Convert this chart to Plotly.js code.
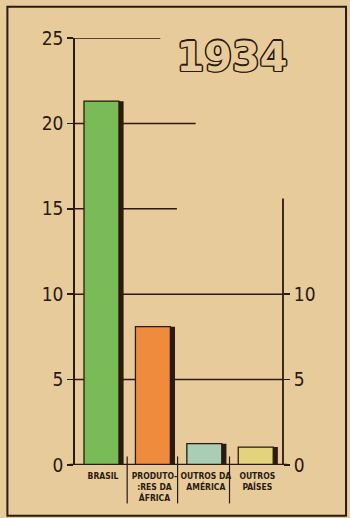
<!DOCTYPE html>
<html>
<head>
<meta charset="utf-8">
<script src="https://cdn.plot.ly/plotly-3.0.1.min.js"></script>
<style>html,body{margin:0;padding:0;background:#e7cb9b;}#chart{width:350px;height:518px;}</style>
</head>
<body>
<div id="chart"></div>
<script>
// Data
const categories = ["BRASIL", "PRODUTORES DA ÁFRICA", "OUTROS DA AMÉRICA", "OUTROS PAÍSES"];
const categoryLabels = ["BRASIL", "PRODUTO-<br>:RES DA<br>ÁFRICA", "OUTROS DA<br>AMÉRICA", "OUTROS<br>PAÍSES"];
const values = [21.3, 8.1, 1.25, 1.05];
const barColors = ["#79bb57", "#ee8b3d", "#a9cdb5", "#e3d37c"];
const leftTicks = [0, 5, 10, 15, 20, 25];
const rightTicks = [0, 5, 10];
const titleText = "1934";

const ink = "#2a1a10";
const bg = "#e7cb9b";
const xIdx = categories.map((c, i) => i);

const shadow = {
  type: "bar", x: xIdx, y: values, width: 0.70, offset: -0.30,
  marker: {color: ink, line: {width: 0}}, hoverinfo: "skip", showlegend: false
};
const bars = {
  type: "bar", x: xIdx, y: values, width: 0.68, offset: -0.37,
  marker: {color: barColors, line: {color: ink, width: 1.3}}, showlegend: false
};

const font = "'Liberation Sans Narrow', 'DejaVu Sans Condensed', sans-serif";
const lw = 1.5;

const shapes = [
  // outer frame
  {type: "rect", xref: "paper", yref: "paper", x0: -0.325, x1: 1.303, y0: -0.119, y1: 1.073,
   line: {color: ink, width: 2}, layer: "above"},
  // guide lines
  {type: "line", xref: "paper", yref: "y", x0: 0, x1: 0.41, y0: 25, y1: 25, line: {color: ink, width: lw}, layer: "below"},
  {type: "line", xref: "paper", yref: "y", x0: 0, x1: 0.58, y0: 20, y1: 20, line: {color: ink, width: lw}, layer: "below"},
  {type: "line", xref: "paper", yref: "y", x0: 0, x1: 0.49, y0: 15, y1: 15, line: {color: ink, width: lw}, layer: "below"},
  {type: "line", xref: "paper", yref: "y", x0: 0, x1: 1, y0: 10, y1: 10, line: {color: ink, width: lw}, layer: "below"},
  {type: "line", xref: "paper", yref: "y", x0: 0, x1: 1, y0: 5, y1: 5, line: {color: ink, width: lw}, layer: "below"},
  // right axis line
  {type: "line", xref: "paper", yref: "y", x0: 1, x1: 1, y0: 0, y1: 15.6, line: {color: ink, width: 1.8}, layer: "below"},
  // baseline
  {type: "line", xref: "paper", yref: "y", x0: -0.025, x1: 1.02, y0: 0, y1: 0, line: {color: ink, width: 2.5}},
  // label separators
  {type: "line", xref: "x", yref: "paper", x0: 0.47, x1: 0.47, y0: 0.02, y1: -0.09, line: {color: ink, width: 1.2}},
  {type: "line", xref: "x", yref: "paper", x0: 1.45, x1: 1.45, y0: 0.02, y1: -0.09, line: {color: ink, width: 1.2}},
  {type: "line", xref: "x", yref: "paper", x0: 2.46, x1: 2.46, y0: 0.02, y1: -0.09, line: {color: ink, width: 1.2}}
];

const layout = {
  width: 350, height: 518,
  margin: {l: 75, r: 67, t: 38, b: 53},
  paper_bgcolor: bg, plot_bgcolor: bg,
  barmode: "overlay",
  title: {
    text: titleText, x: 0.663, xanchor: "center", y: 0.89, yanchor: "middle",
    font: {family: "'DejaVu Sans', sans-serif", size: 40, weight: 700, color: bg,
      shadow: "1.5px 0 0 #2a1a10, -1.5px 0 0 #2a1a10, 0 1.5px 0 #2a1a10, 0 -1.5px 0 #2a1a10, 1px 1px 0 #2a1a10, -1px -1px 0 #2a1a10, 1px -1px 0 #2a1a10, -1px 1px 0 #2a1a10"}
  },
  xaxis: {
    range: [-0.545, 3.5], tickmode: "array", tickvals: xIdx, ticktext: categoryLabels,
    tickangle: 0, ticks: "", showline: false, showgrid: false, zeroline: false, fixedrange: true,
    tickfont: {family: "'DejaVu Sans Condensed', sans-serif", size: 8.5, weight: 700, color: ink},
    ticklabelstandoff: 4
  },
  yaxis: {
    range: [0, 25], tickmode: "array", tickvals: leftTicks,
    ticks: "outside", ticklen: 6, tickwidth: 1.5, tickcolor: ink,
    showline: true, linecolor: ink, linewidth: 1.8, showgrid: false, zeroline: false,
    tickfont: {family: font, size: 19, color: ink}, fixedrange: true
  },
  yaxis2: {
    overlaying: "y", side: "right", range: [0, 25], tickmode: "array", tickvals: rightTicks,
    ticks: "outside", ticklen: 6, tickwidth: 1.5, tickcolor: ink,
    showline: false, showgrid: false, zeroline: false,
    tickfont: {family: font, size: 19, color: ink}, fixedrange: true
  },
  shapes: shapes,
  showlegend: false
};

const dummyRight = {type: "scatter", x: [0], y: [0], yaxis: "y2", mode: "markers",
  marker: {opacity: 0}, hoverinfo: "skip", showlegend: false};

Plotly.newPlot("chart", [shadow, bars, dummyRight], layout, {displayModeBar: false, staticPlot: true});
</script>
</body>
</html>
